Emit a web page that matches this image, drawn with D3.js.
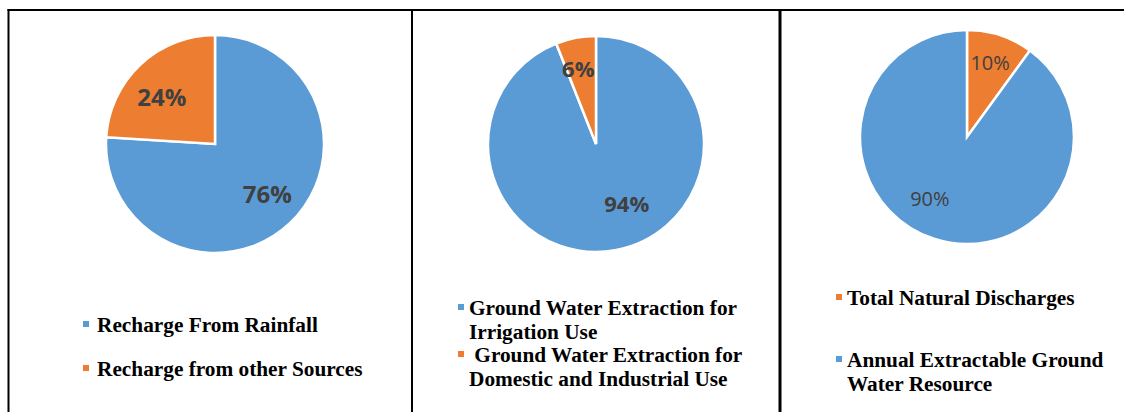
<!DOCTYPE html>
<html><head><meta charset="utf-8">
<script src="https://cdn.jsdelivr.net/npm/d3@7"></script>
<style>html,body{margin:0;padding:0;background:#fff;}svg{display:block;}</style>
</head><body>
<svg id="c" width="1124" height="412"></svg>
<script>
// ---- data ----
const pie1Labels = ["Recharge From Rainfall", "Recharge from other Sources"];
const pie1Values = [76, 24];
const pie2Labels = ["Ground Water Extraction for Irrigation Use", "Ground Water Extraction for Domestic and Industrial Use"];
const pie2Values = [94, 6];
const pie3Labels = ["Total Natural Discharges", "Annual Extractable Ground Water Resource"];
const pie3Values = [10, 90];

const blue = "#5B9BD5", orange = "#ED7D31";
const svg = d3.select("#c");

// frame
const frame = svg.append("g").attr("stroke", "#000").attr("fill", "none");
frame.append("line").attr("x1", 7.5).attr("x2", 1124).attr("y1", 10).attr("y2", 10).attr("stroke-width", 2);
frame.append("line").attr("x1", 8.5).attr("x2", 8.5).attr("y1", 9).attr("y2", 412).attr("stroke-width", 2);
frame.append("line").attr("x1", 412).attr("x2", 412).attr("y1", 9).attr("y2", 412).attr("stroke-width", 2);
frame.append("line").attr("x1", 780).attr("x2", 780).attr("y1", 9).attr("y2", 412).attr("stroke-width", 3);

const panels = [
  { labels: pie1Labels, values: pie1Values, colors: [blue, orange], cx: 215, cy: 144, r: 109,
    fontSize: 24, weight: "bold", labelR: 0.66, labelShift: [[3,-3],[-4,5]],
    legend: { x: 83, textX: 97, lines: [
      { idx: 0, rows: ["Recharge From Rainfall"], y: 332 },
      { idx: 1, rows: ["Recharge from other Sources"], y: 376 } ], lh: 24 } },
  { labels: pie2Labels, values: pie2Values, colors: [blue, orange], cx: 596, cy: 144, r: 108,
    fontSize: 22, weight: "bold", labelR: 0.68, labelShift: [[17,-13],[-4,-4]],
    legend: { x: 458, textX: 469, lines: [
      { idx: 0, rows: ["Ground Water Extraction for", "Irrigation Use"], y: 315 },
      { idx: 1, rows: ["\u00a0Ground Water Extraction for", "Domestic and Industrial Use"], y: 362 } ], lh: 24 } },
  { labels: pie3Labels, values: pie3Values, colors: [orange, blue], cx: 967, cy: 137, r: 107,
    fontSize: 20, weight: "normal", labelR: 0.7, labelShift: [[0,-3],[-14,-10]],
    legend: { x: 836, textX: 847, lines: [
      { idx: 0, rows: ["Total Natural Discharges"], y: 305 },
      { idx: 1, rows: ["Annual Extractable Ground", "Water Resource"], y: 367 } ], lh: 24 } }
];

panels.forEach((p, pi) => {
  const data = p.values.map((v, i) => ({ v, label: p.labels[i], color: p.colors[i], i }));
  // Excel-style: first series starts at 12 o'clock going clockwise
  const pie = d3.pie().value(d => d.v).sort(null);
  const arcs = pie(data);
  const arc = d3.arc().innerRadius(0).outerRadius(p.r);
  const g = svg.append("g").attr("transform", `translate(${p.cx},${p.cy})`);
  g.selectAll("path").data(arcs).join("path")
    .attr("d", arc).attr("fill", d => d.data.color)
    .attr("stroke", "#fff").attr("stroke-width", 2.5).attr("stroke-linejoin", "miter");
  const larc = d3.arc().innerRadius(p.r * p.labelR).outerRadius(p.r * p.labelR);
  g.selectAll("text").data(arcs).join("text")
    .attr("x", d => larc.centroid(d)[0] + p.labelShift[d.index][0])
    .attr("y", d => larc.centroid(d)[1] + p.labelShift[d.index][1])
    .attr("text-anchor", "middle").attr("dominant-baseline", "central")
    .attr("font-family", "'Open Sans', sans-serif")
    .attr("font-size", p.fontSize).attr("font-weight", p.weight)
    .attr("fill", "#404040")
    .text(d => d3.format(".0%")(d.data.v / 100));

  // legend
  const lg = svg.append("g");
  p.legend.lines.forEach(l => {
    lg.append("rect").attr("x", p.legend.x).attr("y", l.y - 11).attr("width", 6).attr("height", 6)
      .attr("fill", p.colors[l.idx]);
    const t = lg.append("text").attr("font-family", "'Liberation Serif', 'Times New Roman', serif")
      .attr("font-weight", "bold").attr("font-size", 21.3).attr("fill", "#000");
    l.rows.forEach((row, k) => {
      t.append("tspan").attr("x", p.legend.textX).attr("y", l.y + k * p.legend.lh).text(row);
    });
  });
});
</script>
</body></html>
